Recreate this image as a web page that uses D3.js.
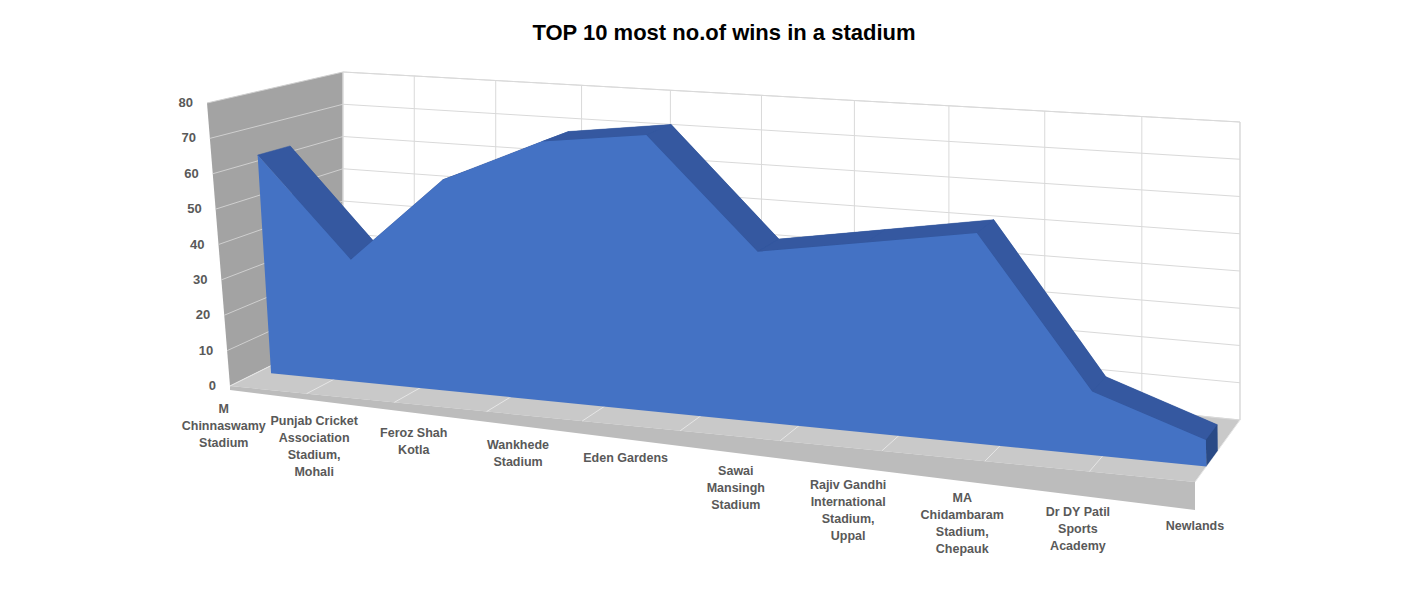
<!DOCTYPE html>
<html><head><meta charset="utf-8">
<script src="https://cdn.jsdelivr.net/npm/d3@7"></script>
<style>body{margin:0;background:#fff}text{font-family:"Liberation Sans",Arial,sans-serif}</style>
</head><body>
<svg id="chart" width="1428" height="598"></svg>
<script>
const categories = [
  "M Chinnaswamy Stadium", "Punjab Cricket Association Stadium, Mohali", "Feroz Shah Kotla",
  "Wankhede Stadium", "Eden Gardens", "Sawai Mansingh Stadium",
  "Rajiv Gandhi International Stadium, Uppal", "MA Chidambaram Stadium, Chepauk",
  "Dr DY Patil Sports Academy", "Newlands"
];
const labelLines = [
  ["M", "Chinnaswamy", "Stadium"], ["Punjab Cricket", "Association", "Stadium,", "Mohali"],
  ["Feroz Shah", "Kotla"], ["Wankhede", "Stadium"], ["Eden Gardens"], ["Sawai", "Mansingh", "Stadium"],
  ["Rajiv Gandhi", "International", "Stadium,", "Uppal"], ["MA", "Chidambaram", "Stadium,", "Chepauk"],
  ["Dr DY Patil", "Sports", "Academy"], ["Newlands"]
];
const wins = [63, 35, 60, 73, 77, 47, 52, 57, 17, 7];
const yTicks = [0, 10, 20, 30, 40, 50, 60, 70, 80];

const svg = d3.select("#chart");

// box corners: [u][w] at value 0 and value 80
const low = { fl: [230, 386], fr: [1195, 482], bl: [343, 330], br: [1240, 420] };
const high = { fl: [207, 103], fr: [1190, 178], bl: [343, 72], br: [1240, 122] };
const vScale = d3.scaleLinear().domain([0, 80]).range([0, 1]);
const persp = d3.scalePow().exponent(1.1).domain([0, 1]).range([0, 1]);
const uScale = i => persp(0.02 + 0.98 * i / (categories.length - 1));

const lerp = (a, b, t) => [a[0] + (b[0] - a[0]) * t, a[1] + (b[1] - a[1]) * t];
const bil = (c, u, w) => lerp(lerp(c.fl, c.fr, u), lerp(c.bl, c.br, u), w);
const P = (u, v, w) => lerp(bil(low, u, w), bil(high, u, w), vScale(v));
const poly = pts => "M" + pts.map(p => p.join(",")).join("L") + "Z";
const line = (a, b, col) => svg.append("path").attr("d", `M${a}L${b}`).attr("stroke", col).attr("fill", "none");

// side wall
svg.append("path").attr("d", poly([P(0,0,0), P(0,0,1), P(0,80,1), P(0,80,0)])).attr("fill", "#a3a3a3");
// back wall
svg.append("path").attr("d", poly([P(0,0,1), P(1,0,1), P(1,80,1), P(0,80,1)])).attr("fill", "#fff").attr("stroke", "#d9d9d9");
// floor
svg.append("path").attr("d", poly([P(0,0,0), P(1,0,0), P(1,0,1), P(0,0,1)])).attr("fill", "#c9c9c9");
svg.append("path").attr("d", poly([P(0,0,0), P(1,0,0), [P(1,0,0)[0], P(1,0,0)[1] + 28], [P(0,0,0)[0], P(0,0,0)[1] + 4]]))
  .attr("fill", "#bcbcbc");

yTicks.forEach(t => {
  line(P(0, t, 1), P(1, t, 1), "#d9d9d9");
  line(P(0, t, 0), P(0, t, 1), "#cfcfcf");
  const p = P(0, t, 0);
  svg.append("text").attr("x", p[0] - 14).attr("y", p[1] + 4).attr("text-anchor", "end")
    .attr("font-size", 13).attr("font-weight", "bold").attr("fill", "#595959").text(t);
});
d3.range(0, 11).forEach(k => {
  const u = persp(k / 10);
  line(P(u, 0, 1), P(u, 80, 1), "#d9d9d9");
  line(P(u, 0, 0), P(u, 0, 1), "#e6e6e6");
});

// area ribbon
const w0 = 0.25, w1 = 0.5;
const front = wins.map((v, i) => P(uScale(i), v, w0));
const back = wins.map((v, i) => P(uScale(i), v, w1));
const n = wins.length - 1;
svg.append("path").attr("d", poly([P(uScale(0),0,w1), ...back, P(uScale(n),0,w1)])).attr("fill", "#2f528f");
wins.slice(1).forEach((v, i) => {
  svg.append("path").attr("d", poly([front[i], front[i + 1], back[i + 1], back[i]]))
    .attr("fill", "#3558a0").attr("stroke", "#3558a0").attr("stroke-width", 0.5);
});
svg.append("path").attr("d", poly([P(uScale(n),0,w0), front[n], back[n], P(uScale(n),0,w1)])).attr("fill", "#2a4a86");
svg.append("path").attr("d", poly([P(uScale(0),0,w0), ...front, P(uScale(n),0,w0)])).attr("fill", "#4472c4");

// category labels
labelLines.forEach((lines, i) => {
  const p = P(uScale(i) - 0.02 * (1 - i / n), 0, 0);
  const t = svg.append("text").attr("text-anchor", "middle").attr("font-size", 12.5)
    .attr("font-weight", "bold").attr("fill", "#595959");
  lines.forEach((s, j) => t.append("tspan").attr("x", p[0]).attr("y", p[1] + 28 + 20 * i / n + j * 17).text(s));
});

svg.append("text").attr("x", 724).attr("y", 40).attr("text-anchor", "middle")
  .attr("font-size", 22).attr("font-weight", "bold").attr("fill", "#000")
  .text("TOP 10 most no.of wins in a stadium");
</script>
</body></html>
